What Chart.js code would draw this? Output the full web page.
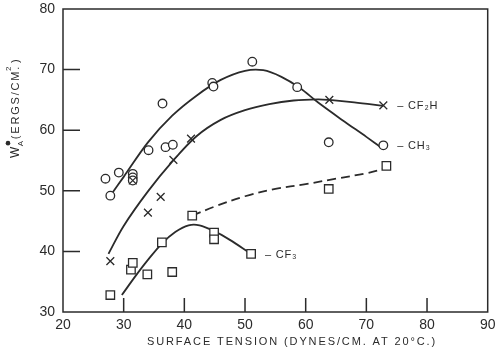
<!DOCTYPE html>
<html>
<head>
<meta charset="utf-8">
<script src="https://cdn.jsdelivr.net/npm/chart.js@4.4.1/dist/chart.umd.min.js"></script>
<style>
  html, body { margin: 0; padding: 0; background: #fff; }
  #chart { display: block; }
</style>
</head>
<body>
<canvas id="chart" width="495" height="348"></canvas>
<script>
// axis ticks
const xTicks = [20, 30, 40, 50, 60, 70, 80, 90];
const yTicks = [30, 40, 50, 60, 70, 80];

// measured points (surface tension, W_A)
const ch3X = [27.0, 27.8, 29.2, 31.5, 31.5, 31.5, 34.1, 36.4, 36.9, 38.1, 44.6, 44.8, 51.2, 58.6, 63.8, 72.8];
const ch3Y = [52.0, 49.2, 53.0, 52.8, 52.2, 51.7, 56.7, 64.4, 57.2, 57.6, 67.8, 67.2, 71.3, 67.1, 58.0, 57.5];

const cf2hX = [27.8, 31.5, 34.0, 36.1, 38.2, 41.1, 63.9, 72.8];
const cf2hY = [38.4, 51.7, 46.4, 49.0, 55.1, 58.6, 65.0, 64.1];

const cf3X = [27.8, 31.2, 31.5, 33.9, 38.0, 36.3, 41.3, 44.9, 44.9, 51.0, 63.8, 73.3];
const cf3Y = [32.8, 37.0, 38.1, 36.2, 36.6, 41.5, 45.9, 43.1, 42.0, 39.6, 50.3, 54.1];

// hand-drawn fitted curves
const ch3CurveX = [27.8, 30, 34, 38, 42, 46, 50, 53, 56, 59, 62, 66, 70, 72.8];
const ch3CurveY = [49.2, 52.3, 58.0, 62.4, 65.7, 68.3, 69.8, 69.9, 68.8, 67.0, 64.6, 61.7, 58.9, 56.9];

const cf2hCurveX = [27.5, 30, 34, 38, 42, 46, 50, 54, 58, 62, 63.9, 68, 72.8];
const cf2hCurveY = [39.6, 44.2, 49.9, 54.8, 59.0, 61.7, 63.3, 64.3, 64.9, 65.1, 65.0, 64.6, 64.0];

const cf3CurveX = [29.7, 32, 34, 36.3, 38.5, 40.7, 42.5, 45, 47.5, 50.7];
const cf3CurveY = [32.8, 36.0, 38.6, 41.3, 43.2, 44.3, 44.3, 43.3, 41.9, 39.8];

const cf3DashX = [41.3, 45, 50, 55, 60, 65, 70, 72.8];
const cf3DashY = [45.9, 47.4, 49.1, 50.3, 51.1, 52.0, 52.9, 53.6];

// series labels anchored at the last marker
const seriesLabels = [
    { text: '– CF₂H', x: 72.8, y: 64.1 },
    { text: '– CH₃', x: 72.8, y: 57.5 },
    { text: '– CF₃', x: 51.0, y: 39.6 }
];

const INK = '#2b2b2b';
const FONT = '"Liberation Sans", "DejaVu Sans", sans-serif';

const zip = (xs, ys) => xs.map((x, i) => ({ x: x, y: ys[i] }));

const curve = (xs, ys, dash) => ({
    data: zip(xs, ys),
    showLine: true,
    pointRadius: 0,
    borderColor: INK,
    borderWidth: 1.8,
    borderDash: dash || [],
    tension: 0.35,
    fill: false,
    order: 3
});

const markers = (xs, ys, style, radius, order) => ({
    data: zip(xs, ys),
    showLine: false,
    pointStyle: style,
    pointRadius: radius,
    pointBorderColor: INK,
    pointBackgroundColor: '#fff',
    pointBorderWidth: 1.3,
    order: order
});

// frame, inward ticks, axis titles and series labels
const decorations = {
    id: 'decorations',
    afterDraw(chart) {
        const { ctx, chartArea: a, scales } = chart;
        ctx.save();
        ctx.strokeStyle = INK;
        ctx.lineWidth = 1.5;
        ctx.strokeRect(a.left, a.top, a.right - a.left, a.bottom - a.top);

        ctx.beginPath();
        yTicks.slice(1, -1).forEach(v => {
            const py = scales.y.getPixelForValue(v);
            ctx.moveTo(a.left, py);
            ctx.lineTo(a.left + 17, py);
        });
        xTicks.slice(1, -1).forEach(v => {
            const px = scales.x.getPixelForValue(v);
            ctx.moveTo(px, a.bottom);
            ctx.lineTo(px, a.bottom - 14);
        });
        ctx.stroke();

        ctx.fillStyle = INK;
        ctx.textBaseline = 'middle';

        // x title
        const xTitle = 'SURFACE TENSION (DYNES/CM. AT 20°C.)';
        ctx.font = '11px ' + FONT;
        ctx.letterSpacing = '0px';
        const w0 = ctx.measureText(xTitle).width;
        ctx.letterSpacing = ((290 - w0) / xTitle.length).toFixed(2) + 'px';
        ctx.textAlign = 'left';
        ctx.fillText(xTitle, 147, 342);

        // y title, rotated
        ctx.save();
        ctx.translate(16, 158);
        ctx.rotate(-Math.PI / 2);
        ctx.textAlign = 'left';
        ctx.letterSpacing = '0px';
        ctx.font = '12px ' + FONT;
        ctx.fillText('W', 0, 0);
        let cx = ctx.measureText('W').width + 0.5;
        ctx.font = '8px ' + FONT;
        ctx.fillText('A', cx, 5);
        ctx.beginPath();
        ctx.arc(cx + 3, -8, 2.3, 0, Math.PI * 2);
        ctx.fill();
        cx += 7;
        ctx.font = '11px ' + FONT;
        ctx.letterSpacing = '1.8px';
        const body = '(ERGS/CM.';
        ctx.fillText(body, cx, 0);
        cx += ctx.measureText(body).width;
        ctx.font = '8px ' + FONT;
        ctx.fillText('2', cx - 6, -7);
        ctx.font = '11px ' + FONT;
        ctx.fillText(')', cx + 2, 0);
        ctx.restore();

        // series labels
        ctx.letterSpacing = '0.8px';
        ctx.font = '11px ' + FONT;
        ctx.textAlign = 'left';
        seriesLabels.forEach(l => {
            const px = scales.x.getPixelForValue(l.x);
            const py = scales.y.getPixelForValue(l.y);
            ctx.fillText(l.text, px + 14, py + 1);
        });
        ctx.restore();
    }
};

const tickFont = { family: FONT, size: 14 };

new Chart(document.getElementById('chart'), {
    type: 'scatter',
    data: {
        datasets: [
            curve(ch3CurveX, ch3CurveY),
            curve(cf2hCurveX, cf2hCurveY),
            curve(cf3CurveX, cf3CurveY),
            curve(cf3DashX, cf3DashY, [9, 5]),
            markers(ch3X, ch3Y, 'circle', 4.3, 2),
            markers(cf3X, cf3Y, 'rect', 6, 2),
            markers(cf2hX, cf2hY, 'crossRot', 5.5, 1)
        ]
    },
    options: {
        responsive: false,
        animation: false,
        layout: { padding: { top: 9, right: 3, left: 0, bottom: 0 } },
        plugins: { legend: { display: false }, tooltip: { enabled: false } },
        scales: {
            x: {
                type: 'linear', min: 20, max: 90,
                afterBuildTicks: s => { s.ticks = xTicks.map(v => ({ value: v })); },
                afterFit: s => { s.height = 36; s.paddingLeft = 0; s.paddingRight = 0; },
                grid: { display: false, drawTicks: false },
                border: { display: false },
                ticks: { color: INK, font: tickFont, padding: 5, maxRotation: 0, autoSkip: false }
            },
            y: {
                type: 'linear', min: 30, max: 80,
                afterBuildTicks: s => { s.ticks = yTicks.map(v => ({ value: v })); },
                afterFit: s => { s.width = 63; s.paddingTop = 0; s.paddingBottom = 0; },
                grid: { display: false, drawTicks: false },
                border: { display: false },
                ticks: { color: INK, font: tickFont, padding: 8, autoSkip: false }
            }
        }
    },
    plugins: [decorations]
});
</script>
</body>
</html>
